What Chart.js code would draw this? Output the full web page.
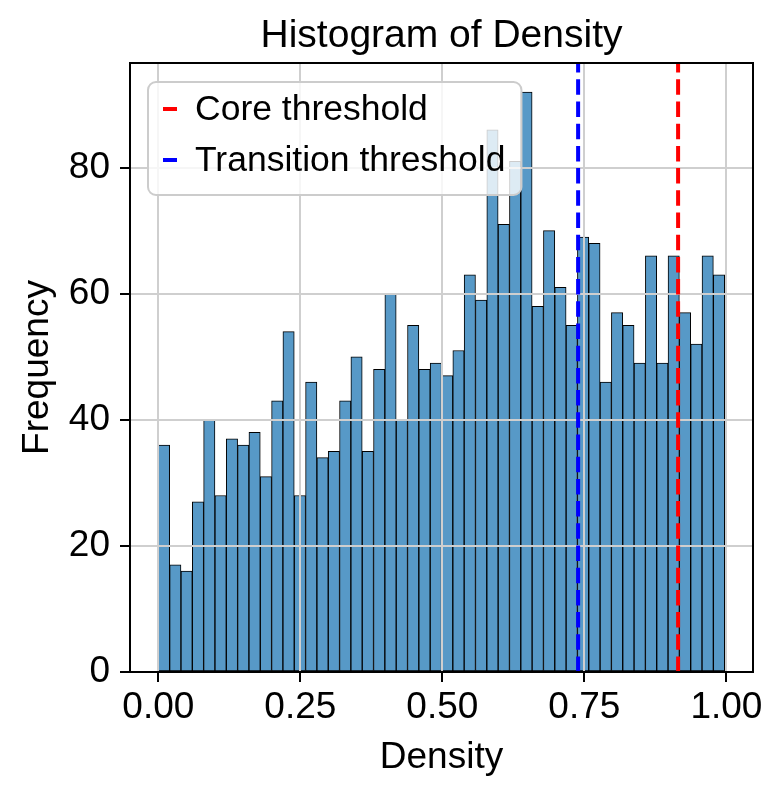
<!DOCTYPE html>
<html>
<head>
<meta charset="utf-8">
<script src="https://cdn.jsdelivr.net/npm/chart.js@4"></script>
<style>
  html, body { margin: 0; padding: 0; background: #fff; }
  #wrap { width: 783px; height: 795px; }
</style>
</head>
<body>
<div id="wrap"><canvas id="chart" width="783" height="795"></canvas></div>
<script>
// histogram counts, 50 bins from 0 to ~0.997
const binCounts = [36, 17, 16, 27, 40, 28, 37, 36, 38, 31,
                   43, 54, 28, 46, 34, 35, 43, 50, 35, 48,
                   60, 40, 55, 48, 49, 47, 51, 63, 59, 86,
                   71, 81, 92, 58, 70, 61, 55, 69, 68, 46,
                   57, 55, 49, 66, 49, 66, 57, 52, 66, 63];
const binStart = 0;
const binEnd = 0.997;
const thresholdLabels = ['Core threshold', 'Transition threshold'];
const thresholdValues = [0.915, 0.739];
const thresholdColors = ['#ff0000', '#0000ff'];
const xTicks = [0, 0.25, 0.5, 0.75, 1.0];
const yTicks = [0, 20, 40, 60, 80];
const chartTitle = 'Histogram of Density';

const FONT = "'Liberation Sans', Arial, sans-serif";
const FS = 37;

const binWidth = (binEnd - binStart) / binCounts.length;
const barData = binCounts.map((c, i) => ({ x: binStart + binWidth * (i + 0.5), y: c }));
const yMax = Math.max(...binCounts) * 1.05;
const xPad = (binEnd - binStart) * 0.05;

const lineSets = thresholdValues.map((v, i) => ({
    type: 'line',
    label: thresholdLabels[i],
    data: [{ x: v, y: 0 }, { x: v, y: yMax }],
    borderColor: thresholdColors[i],
    borderWidth: 4,
    borderDash: [15.5, 6.7],
    pointRadius: 0,
    order: 1
}));

// grid over the bars, like the original
const gridOnTop = {
    id: 'gridOnTop',
    afterDatasetDraw(chart, args) {
        if (args.index !== 0) return;
        chart.scales.x.drawGrid(chart.chartArea);
        chart.scales.y.drawGrid(chart.chartArea);
    }
};

const frameAndLegend = {
    id: 'frameAndLegend',
    afterDraw(chart) {
        const ctx = chart.ctx;
        const a = chart.chartArea;
        ctx.save();
        // spines
        ctx.strokeStyle = '#000';
        ctx.lineWidth = 2;
        ctx.strokeRect(a.left, a.top, a.right - a.left, a.bottom - a.top);

        // title centred over the plot area
        ctx.font = '39px ' + FONT;
        ctx.fillStyle = '#000';
        ctx.textAlign = 'center';
        ctx.textBaseline = 'middle';
        ctx.fillText(chartTitle, (a.left + a.right) / 2, 36);

        // legend box
        ctx.font = '35.5px ' + FONT;
        const textW = Math.max(...thresholdLabels.map(t => ctx.measureText(t).width));
        const x0 = a.left + 18, y0 = a.top + 19;
        const w = 47 + textW + 16, h = 113;
        ctx.beginPath();
        ctx.roundRect(x0, y0, w, h, 8);
        ctx.fillStyle = 'rgba(255,255,255,0.8)';
        ctx.fill();
        ctx.strokeStyle = '#cccccc';
        ctx.lineWidth = 2;
        ctx.stroke();

        ctx.textAlign = 'left';
        thresholdLabels.forEach((t, i) => {
            const cy = y0 + 27 + i * 51;
            ctx.beginPath();
            ctx.moveTo(x0 + 15, cy);
            ctx.lineTo(x0 + 29, cy);
            ctx.strokeStyle = thresholdColors[i];
            ctx.lineWidth = 4;
            ctx.stroke();
            ctx.fillStyle = '#000';
            ctx.fillText(t, x0 + 47, cy + 1);
        });
        ctx.restore();
    }
};

new Chart(document.getElementById('chart'), {
    type: 'bar',
    data: {
        datasets: [{
            label: 'Density',
            data: barData,
            backgroundColor: 'rgb(87,153,199)',
            borderColor: '#000',
            borderWidth: 1,
            borderSkipped: false,
            barPercentage: 1,
            categoryPercentage: 1,
            order: 2
        }, ...lineSets]
    },
    options: {
        responsive: false,
        animation: false,
        devicePixelRatio: 1,
        layout: { padding: { left: 0, right: 30, top: 63, bottom: 0 } },
        plugins: {
            legend: { display: false },
            tooltip: { enabled: false },
            title: { display: false }
        },
        scales: {
            x: {
                type: 'linear',
                offset: false,
                min: binStart - xPad,
                max: binEnd + xPad,
                afterFit: s => { s.height = 123; },
                afterBuildTicks: s => { s.ticks = xTicks.map(v => ({ value: v })); },
                ticks: {
                    color: '#000',
                    font: { family: FONT, size: FS },
                    padding: 4,
                    maxRotation: 0,
                    callback: v => v.toFixed(2)
                },
                grid: { offset: false, color: '#cfcfcf', lineWidth: 2, tickLength: 10, tickColor: '#000', tickWidth: 2 },
                border: { display: false },
                title: {
                    display: true,
                    text: 'Density',
                    color: '#000',
                    font: { family: FONT, size: FS },
                    padding: { top: 0, bottom: 15 }
                }
            },
            y: {
                min: 0,
                max: yMax,
                afterFit: s => { s.width = 130; },
                afterBuildTicks: s => { s.ticks = yTicks.map(v => ({ value: v })); },
                ticks: {
                    color: '#000',
                    font: { family: FONT, size: FS },
                    padding: 10
                },
                grid: { color: '#cfcfcf', lineWidth: 2, tickLength: 10, tickColor: '#000', tickWidth: 2 },
                border: { display: false },
                title: {
                    display: true,
                    text: 'Frequency',
                    color: '#000',
                    font: { family: FONT, size: FS },
                    padding: { top: 16, bottom: 0 }
                }
            }
        }
    },
    plugins: [gridOnTop, frameAndLegend]
});
</script>
</body>
</html>
